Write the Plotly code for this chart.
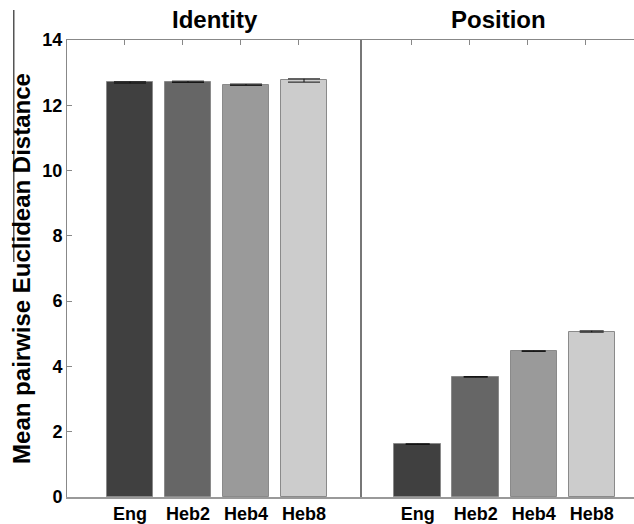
import plotly.graph_objects as go

categories = ["Eng", "Heb2", "Heb4", "Heb8"]
identity_values = [12.70, 12.72, 12.63, 12.76]
identity_errors = [0.02, 0.02, 0.02, 0.05]
position_values = [1.62, 3.68, 4.47, 5.07]
position_errors = [0.01, 0.01, 0.01, 0.02]
panel_titles = ["Identity", "Position"]
y_label = "Mean pairwise Euclidean Distance"
y_ticks = [0, 2, 4, 6, 8, 10, 12, 14]

bar_colors = ["#404040", "#666666", "#9a9a9a", "#cccccc"]
FONT = "Liberation Sans, Arial, Helvetica, sans-serif"
W, H = 634, 524
L, R, T, B = 67, 0, 40, 27
PW, PH = W - L - R, H - T - B
split = (362 - L) / PW

xpos = [1, 2, 3, 4]

fig = go.Figure()
fig.add_trace(go.Bar(
    x=xpos, y=identity_values, xaxis="x", yaxis="y", width=0.8,
    marker=dict(color=bar_colors, line=dict(color="#8a8a8a", width=1)),
    error_y=dict(type="data", array=identity_errors, color="#111111", thickness=1, width=16),
    showlegend=False, hoverinfo="x+y",
))
fig.add_trace(go.Bar(
    x=xpos, y=position_values, xaxis="x2", yaxis="y2", width=0.8,
    marker=dict(color=bar_colors, line=dict(color="#8a8a8a", width=1)),
    error_y=dict(type="data", array=position_errors, color="#111111", thickness=1, width=12),
    showlegend=False, hoverinfo="x+y",
))
# invisible traces to hold top (mirror) axes
fig.add_trace(go.Scatter(x=[None], y=[None], xaxis="x3", yaxis="y", showlegend=False, hoverinfo="skip"))
fig.add_trace(go.Scatter(x=[None], y=[None], xaxis="x4", yaxis="y2", showlegend=False, hoverinfo="skip"))

tickfont = dict(family=FONT, size=18, color="black", weight="bold")

fig.update_layout(
    width=W, height=H,
    margin=dict(l=L, r=R, t=T, b=B, pad=0, autoexpand=False),
    paper_bgcolor="white", plot_bgcolor="white",
    bargap=0,
    xaxis=dict(domain=[0, split], range=[-0.086, 5.0], tickvals=xpos, ticktext=categories,
               ticks="", showline=True, linecolor="#999999", linewidth=1.5,
               showgrid=False, zeroline=False, tickfont=tickfont, fixedrange=True),
    xaxis2=dict(domain=[split, 1], range=[0.040, 4.729], tickvals=xpos, ticktext=categories,
                ticks="", showline=True, linecolor="#999999", linewidth=1.5, anchor="y2",
                showgrid=False, zeroline=False, tickfont=tickfont, fixedrange=True),
    xaxis3=dict(overlaying="x", side="top", anchor="y", range=[0.017, 5.103], tickvals=xpos,
                ticks="inside", ticklen=5, tickcolor="#888888", showticklabels=False,
                showline=True, linecolor="#888888", linewidth=1, showgrid=False, zeroline=False),
    xaxis4=dict(overlaying="x2", side="top", anchor="y2", range=[0.143, 4.833], tickvals=xpos,
                ticks="inside", ticklen=5, tickcolor="#888888", showticklabels=False,
                showline=True, linecolor="#888888", linewidth=1, showgrid=False, zeroline=False),
    yaxis=dict(range=[0, 14], tickvals=y_ticks, ticks="inside", ticklen=5, tickcolor="#888888",
               showline=True, linecolor="#888888", linewidth=1, showgrid=False, zeroline=False,
               tickfont=tickfont, anchor="x", fixedrange=True,
               title=dict(text=y_label, font=dict(family=FONT, size=24, color="black", weight="bold"),
                          standoff=4)),
    yaxis2=dict(range=[0, 14], matches="y", anchor="x2", showticklabels=False, ticks="",
                showline=True, linecolor="#777777", linewidth=2, showgrid=False, zeroline=False),
    annotations=[
        dict(text=panel_titles[0], x=split / 2, y=1, xref="paper", yref="paper",
             xanchor="center", yanchor="bottom", yshift=5, showarrow=False,
             font=dict(family=FONT, size=24, color="black", weight="bold")),
        dict(text=panel_titles[1], x=(split + 1) / 2, y=1, xref="paper", yref="paper",
             xanchor="center", yanchor="bottom", yshift=5, showarrow=False,
             font=dict(family=FONT, size=24, color="black", weight="bold")),
    ],
    shapes=[
        # thin vertical stroke at the far left of the figure
        dict(type="rect", xref="paper", yref="paper", layer="above",
             x0=(13 - L) / PW, x1=(14.5 - L) / PW,
             y0=(H - B - 10) / PH, y1=(H - B - 262) / PH,
             fillcolor="#555555", line=dict(width=0)),
    ],
)

fig.write_html(
    "out.html",
    config={"displayModeBar": False},
    post_script="document.body.style.margin='0';document.body.style.padding='0';document.body.style.overflow='hidden';",
)
